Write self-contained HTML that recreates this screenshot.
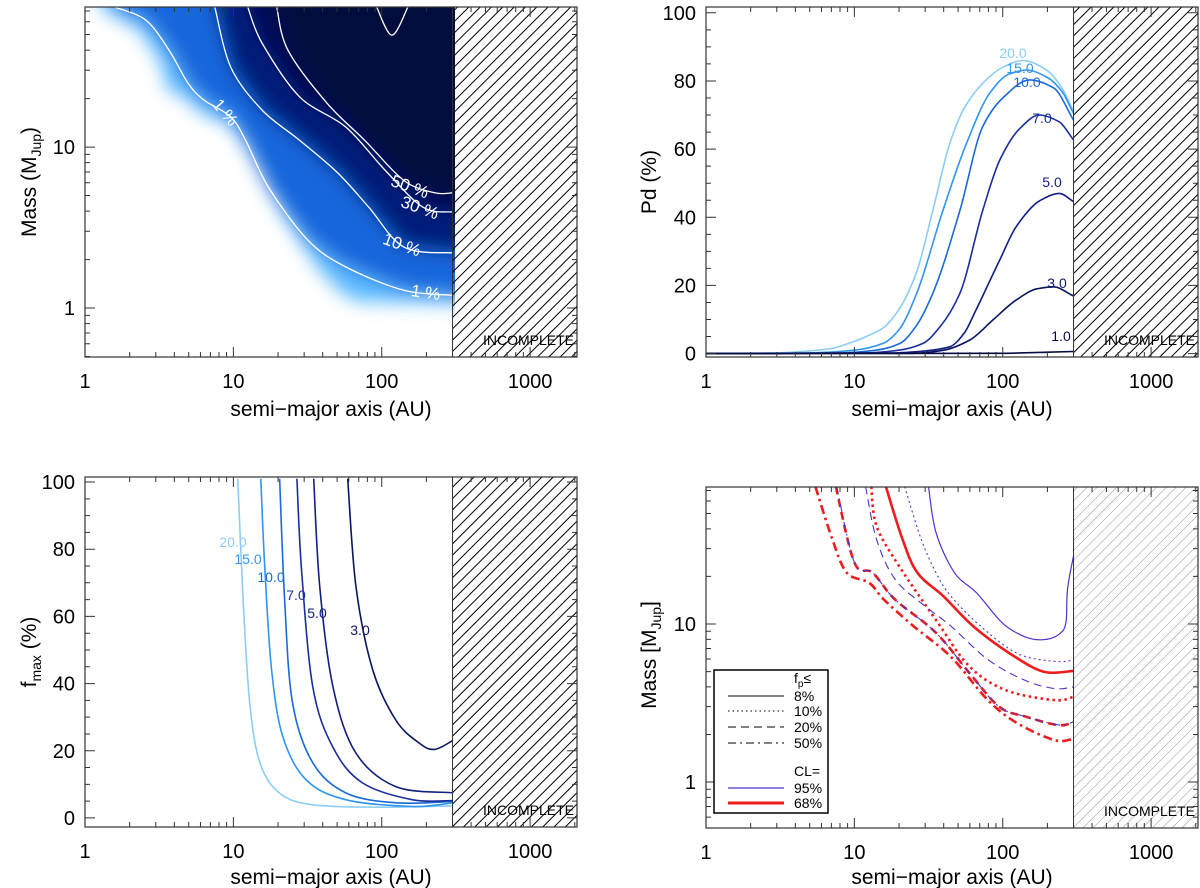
<!DOCTYPE html>
<html><head><meta charset="utf-8"><style>
html,body{margin:0;padding:0;background:#fff;}
svg{display:block;font-family:"Liberation Sans",Arial,sans-serif;}
</style></head><body>
<svg id="fig" width="1200" height="888" viewBox="0 0 1200 888" xmlns="http://www.w3.org/2000/svg">
<defs>
<pattern id="hatchDark" patternUnits="userSpaceOnUse" width="8" height="8" patternTransform="rotate(45)">
<line x1="0" y1="0" x2="0" y2="8" stroke="#000" stroke-width="2"/></pattern>
<pattern id="hatchLight" patternUnits="userSpaceOnUse" width="7" height="7" patternTransform="rotate(45)">
<line x1="0" y1="0" x2="0" y2="7" stroke="#777" stroke-width="0.8"/></pattern>
<filter id="blur" x="-10%" y="-10%" width="120%" height="120%"><feGaussianBlur stdDeviation="9"/></filter>
<clipPath id="clipHeat"><rect x="85" y="7" width="370" height="350"/></clipPath>
</defs>
</svg>
<script>
// ---------- DATA ----------
const heatEdge=[[1.26,74],[2.35,53],[3.2,34.7],[3.62,22.6],[4.7,20.5],[5.95,16.5],[9.47,13.7],[11.9,10.3],[15.1,7.2],[20.6,4.06],[28,2.64],[38.2,1.72],[56.3,1.2],[71,1.1],[300,1.07]];
const contour1=[[1.59,74],[2.57,61.5],[3.68,40],[4.94,25],[6.33,19.6],[9.6,15.4],[12.1,11],[17.3,5.6],[31.8,2.64],[57.3,1.8],[141,1.29],[300,1.2]];
const contour10=[[7.5,74],[9.6,31.4],[15.6,17],[28,11],[50.6,6.9],[81.7,4.24],[141,2.39],[300,2.2]];
const contour30=[[12.5,74],[15.6,44.3],[28,20.5],[57.3,13.3],[105,7.2],[189,4.24],[300,3.95]];
const contour50=[[19.6,74],[23.3,40],[42.6,18.8],[76.9,11],[141,6.2],[227,5.2],[300,5.2]];
const contourLoop=[[92.5,74],[117,49.6],[150,74]];
const pdLevels=["20.0","15.0","10.0","7.0","5.0","3.0","1.0"];
const pd20=[[1,0],[3,0.2],[5,0.8],[7,1.5],[9.3,3.1],[12,5],[15.6,7.5],[20,13],[26.3,24],[33.8,42],[44,61.7],[55,72],[73.3,79.3],[100,84],[137,86],[200,83],[250,78],[300,71]];
const pd15=[[1,0],[5,0.2],[10,1],[15.6,3],[20,7],[26.3,17.7],[39.5,42],[57,61.7],[81.7,76.4],[110,82],[144,83.2],[200,81],[250,77],[300,70.5]];
const pd10=[[1,0],[8,0.2],[14,1],[20.3,3],[26,8],[33.8,17.7],[51.4,42],[73.3,66.6],[100,75],[152,80.3],[220,78],[300,68.5]];
const pd7=[[1,0],[12,0.2],[20,1],[29,3],[38,8],[51.4,17.7],[73.3,42],[95.5,56.8],[130,66],[176,70],[240,68],[300,62.7]];
const pd5=[[1,0],[18,0.2],[30,0.8],[44,2],[55,6],[66,12.8],[95.5,27.5],[123,37.2],[180,45],[241,47],[300,44.6]];
const pd3=[[1,0],[25,0.1],[40,1],[60,4],[86,9.9],[123,15.7],[170,19],[219,19.6],[300,16.9]];
const pd1=[[1,0],[100,0.1],[200,0.4],[300,0.6]];
const fLevels=["20.0","15.0","10.0","7.0","5.0","3.0"];
const fm20=[[10.7,101],[11.66,63.9],[12.9,34],[15.1,16.4],[20.5,7.4],[34.3,3.9],[96,3.2],[300,3.6]];
const fm15=[[15.3,101],[16.3,74],[18.1,44],[21.6,24],[31,11.3],[57.6,5.4],[162,3.4],[300,4.5]];
const fm10=[[20.5,101],[22.2,64],[25.1,34],[34.3,16.4],[57.6,7.4],[125,4.5],[300,4.9]];
const fm7=[[26.8,101],[28.8,74],[34.3,39],[46.9,21],[74.4,10.4],[162,5.4],[300,5.2]];
const fm5=[[34.8,101],[38.2,69],[46.9,39],[67,19.3],[125,9.3],[300,7.5]];
const fm3=[[59,101],[67,69],[87,44],[125,29],[180,22.2],[227,20.4],[300,23]];
const blue8=[[31.6,74],[35.5,37.9],[47.3,21.1],[66.8,15.7],[100,10.1],[141,8.3],[188,7.95],[237,8.55],[266,10.1],[273,16.5],[300,27]];
const blue10=[[21.8,74],[28.2,34.4],[35.5,21.1],[44.7,15],[70.8,9.7],[126,6.5],[224,5.8],[300,5.9]];
const blue20=[[11.9,74],[14.1,34.4],[18.8,19.2],[29.9,13],[44.7,9.7],[79.4,5.95],[141,4.4],[224,3.9],[300,4.0]];
const blue50=[[7.6,74],[10,24.5],[13.3,21.1],[18.8,14.3],[35.5,8.8],[59.6,4.9],[94.4,3.0],[141,2.6],[237,2.3],[300,2.4]];
const red8=[[16.3,74],[21.1,34.4],[26.6,21.1],[39.8,15],[63.1,9.7],[112,6.5],[188,5.0],[300,5.05]];
const red10=[[13,74],[14.1,41.8],[20,23.3],[35.5,10.6],[59.6,5.4],[106,3.8],[224,3.3],[300,3.46]];
const red20=[[7.5,74],[10,24.5],[13.3,21.1],[18.8,14.3],[35.5,8.8],[59.6,4.9],[94.4,3.0],[141,2.6],[237,2.29],[300,2.4]];
const red50=[[5.46,74],[7.1,34.4],[8.9,21.1],[12.6,18.2],[15.8,14.3],[25,9.7],[44.7,6.2],[79.4,3.3],[126,2.35],[224,1.84],[300,1.88]];
const xTicks=["1","10","100","1000"];
const logYTicks=["1","10"];
const linYTicks=["0","20","40","60","80","100"];

// ---------- HELPERS ----------
const NS="http://www.w3.org/2000/svg";
const svg=document.getElementById('fig');
function el(tag,attrs,parent){const e=document.createElementNS(NS,tag);for(const k in attrs)e.setAttribute(k,attrs[k]);(parent||svg).appendChild(e);return e;}
function catmull(p){let d=`M${p[0][0].toFixed(1)},${p[0][1].toFixed(1)}`;for(let i=0;i<p.length-1;i++){const p0=p[i-1]||p[i],p1=p[i],p2=p[i+1],p3=p[i+2]||p2;const c1=[p1[0]+(p2[0]-p0[0])/6,p1[1]+(p2[1]-p0[1])/6],c2=[p2[0]-(p3[0]-p1[0])/6,p2[1]-(p3[1]-p1[1])/6];d+=`C${c1[0].toFixed(1)},${c1[1].toFixed(1)} ${c2[0].toFixed(1)},${c2[1].toFixed(1)} ${p2[0].toFixed(1)},${p2[1].toFixed(1)}`;}return d;}
function monotone(p){
  const n=p.length;if(n<2)return '';
  const dx=[],m=[],t=new Array(n);
  for(let i=0;i<n-1;i++){dx[i]=p[i+1][0]-p[i][0];m[i]=dx[i]===0?0:(p[i+1][1]-p[i][1])/dx[i];}
  t[0]=m[0];t[n-1]=m[n-2];
  for(let i=1;i<n-1;i++){t[i]=(m[i-1]*m[i]<=0)?0:(3*(dx[i-1]+dx[i]))/((2*dx[i]+dx[i-1])/m[i-1]+(dx[i]+2*dx[i-1])/m[i]);}
  let d=`M${p[0][0].toFixed(1)},${p[0][1].toFixed(1)}`;
  for(let i=0;i<n-1;i++){const h=dx[i]/3;
    d+=`C${(p[i][0]+h).toFixed(1)},${(p[i][1]+t[i]*h).toFixed(1)} ${(p[i+1][0]-h).toFixed(1)},${(p[i+1][1]-t[i+1]*h).toFixed(1)} ${p[i+1][0].toFixed(1)},${p[i+1][1].toFixed(1)}`;}
  return d;
}
function makePanel(x0,y0,w,h,ylog,ymin,ymax){
  const lx0=0,lx1=3.316;
  const sx=a=>x0+(Math.log10(a)-lx0)/(lx1-lx0)*w;
  const sy=ylog?(v=>y0+h-(Math.log10(v)-ymin)/(ymax-ymin)*h):(v=>y0+h-(v-ymin)/(ymax-ymin)*h);
  return {x0,y0,w,h,sx,sy,ylog,ymin,ymax};
}
function drawAxes(P,name,xTitleY){
  const g=el('g',{});
  
  
  const {x0,y0,w,h,sx,sy}=P;
  const fr=el('rect',{x:x0,y:y0,width:w,height:h,fill:'none',stroke:'#333','stroke-width':1.2},g);
  
  
  let d='';
  for(let dec=1;dec<=1000;dec*=10){for(let m=1;m<=9;m++){const a=dec*m;if(a>2070)break;const x=sx(a);const L=m===1?10:5;d+=`M${x},${y0+h}v${-L}M${x},${y0}v${L}`;}}
  if(P.ylog){const vals=[];for(let m=5;m<=9;m++)vals.push(m/10);for(let m=1;m<=9;m++)vals.push(m);for(let m=1;m<=7;m++)vals.push(m*10);
    vals.forEach(v=>{const y=sy(v);if(y<y0-0.5||y>y0+h+0.5)return;const L=(v===1||v===10)?10:5;d+=`M${x0},${y}h${L}M${x0+w},${y}h${-L}`;});}
  else{for(let v=0;v<=100;v+=5){const y=sy(v);const L=v%20===0?10:5;d+=`M${x0},${y}h${L}M${x0+w},${y}h${-L}`;}}
  el('path',{d,stroke:'#333','stroke-width':1,fill:'none'},g);
  xTicks.forEach(t=>{const tx=el('text',{x:sx(+t),y:y0+h+31,'text-anchor':'middle','font-size':20,fill:'#000'},g);tx.textContent=t;
    
    });
  (P.ylog?logYTicks:linYTicks).forEach(t=>{const ty=el('text',{x:x0-10,y:sy(+t)+7,'text-anchor':'end','font-size':20,fill:'#000'},g);ty.textContent=t;
    
    });
  const xt=el('text',{x:x0+w/2,y:xTitleY,'text-anchor':'middle','font-size':21,fill:'#000'},g);
  xt.textContent='semi\u2212major axis (AU)';
  
  
}
function yTitle(x,y,parts){
  const t=el('text',{x:0,y:0,transform:`translate(${x},${y}) rotate(-90)`,'text-anchor':'middle','font-size':21,fill:'#000'});
  
  
  parts.forEach(p=>{const s=el('tspan',p.sub?{'font-size':14,dy:5}:(p.after?{dy:-5}:{}),t);s.textContent=p.t;});
}
function hatch(P,pat,name){
  const x=P.sx(300);
  const r=el('rect',{x,y:P.y0,width:P.x0+P.w-x,height:P.h,fill:`url(#${pat})`,stroke:'#333','stroke-width':1});
  
  
  const t=el('text',{x:P.x0+P.w-3,y:P.y0+P.h-12,'text-anchor':'end','font-size':14,fill:'#000'});
  t.textContent='INCOMPLETE';
  
  
}
function curve(P,data,attrs,name,mono){
  const pts=data.map(d=>[P.sx(d[0]),P.sy(d[1])]);
  const p=el('path',Object.assign({d:mono?monotone(pts):catmull(pts),fill:'none'},attrs));
  
  
  return p;
}
function label(x,y,txt,color,size,rot,name){
  const t=el('text',{x,y,'text-anchor':'middle','font-size':size,fill:color,transform:rot?`rotate(${rot} ${x} ${y})`:''});
  t.textContent=txt;
  
  
}

// ---------- PANEL 1 ----------
const P1=makePanel(85,7,492,350,true,-0.304,1.87);
const heat=el('g',{'clip-path':'url(#clipHeat)'});


const heatInner=el('g',{filter:'url(#blur)'},heat);
[[heatEdge,'#5ab9ff'],[contour1,'#1466dc'],[contour10,'#051f7a'],[contour30,'#021058'],[contour50,'#000a3e']].forEach(([c,col])=>{
  const pts=c.map(d=>[P1.sx(d[0]),P1.sy(d[1])]);
  const first=pts[0],last=pts[pts.length-1];
  const poly=[[first[0],P1.y0-40],...pts,[last[0]+40,last[1]],[last[0]+40,P1.y0-40]];
  const pg=el('polygon',{points:poly.map(p=>p.join(',')).join(' '),fill:col},heatInner);
  
  
});
[[contour1,'contour-1pct'],[contour10,'contour-10pct'],[contour30,'contour-30pct'],[contour50,'contour-50pct'],[contourLoop,'contour-loop']].forEach(([c,n])=>curve(P1,c,{stroke:'#fff','stroke-width':1.3},n,false));
label(221,116,'1 %','#fff',17,50,'contour-label-1pct-upper');
label(408,192,'50 %','#fff',17,20,'contour-label-50pct');
label(418,213,'30 %','#fff',17,20,'contour-label-30pct');
label(400,250,'10 %','#fff',17,20,'contour-label-10pct');
label(425,298,'1 %','#fff',17,8,'contour-label-1pct-lower');
hatch(P1,'hatchDark','panel1');
drawAxes(P1,'panel1',416);
yTitle(36,182,[{t:'Mass (M'},{t:'Jup',sub:true},{t:')',after:true}]);

// ---------- PANEL 2 ----------
const P2=makePanel(706,7,492,350,false,-1,101.7);
const pdColors=['#8ccdf5','#2f95ee','#1a6ad6','#1a2e9c','#101f80','#0a1560','#050a40'];
[pd20,pd15,pd10,pd7,pd5,pd3,pd1].forEach((c,i)=>curve(P2,c,{stroke:pdColors[i],'stroke-width':1.6},'pd-curve-'+pdLevels[i],true));
[[1013,58],[1020,73],[1027,87],[1042,123],[1052,187],[1057,288],[1061,341]].forEach((p,i)=>label(p[0],p[1],pdLevels[i],pdColors[i],14,0,'pd-label-'+pdLevels[i]));
hatch(P2,'hatchDark','panel2');
drawAxes(P2,'panel2',416);
yTitle(656,182,[{t:'Pd (%)'}]);

// ---------- PANEL 3 ----------
const P3=makePanel(85,477,492,350,false,-2.7,101.5);
const fColors=pdColors.slice(0,6);
const fClip=el('clipPath',{id:'clipF'});el('rect',{x:85,y:477,width:492,height:350},fClip);
const g3=el('g',{'clip-path':'url(#clipF)'});
[fm20,fm15,fm10,fm7,fm5,fm3].forEach((c,i)=>{const p=curve(P3,c,{stroke:fColors[i],'stroke-width':1.6},'fmax-curve-'+fLevels[i],false);g3.appendChild(p);});
[[233,547],[248,564],[271,582],[296,600],[317,618],[360,635]].forEach((p,i)=>label(p[0],p[1],fLevels[i],fColors[i],14,0,'fmax-label-'+fLevels[i]));
hatch(P3,'hatchDark','panel3');
drawAxes(P3,'panel3',884);
yTitle(36,652,[{t:'f'},{t:'max',sub:true},{t:' (%)',after:true}]);

// ---------- PANEL 4 ----------
const P4=makePanel(706,487,492,341,true,-0.291,1.867);
const fClip4=el('clipPath',{id:'clipM'});el('rect',{x:706,y:487,width:492,height:341},fClip4);
const g4=el('g',{'clip-path':'url(#clipM)'});
const BL='#4a35c8',RD='#ee1c1c';
[[red50,RD,2.6,'9 4 2.5 4','red-50pct'],[red20,RD,2.6,'8 5','red-20pct'],[blue50,BL,1.1,'8 4 2 4','blue-50pct'],[red10,RD,2.6,'2.5 3.5','red-10pct'],[blue20,BL,1.1,'8 5','blue-20pct'],[red8,RD,2.6,'','red-8pct'],[blue10,BL,1.1,'2 3','blue-10pct'],[blue8,BL,1.2,'','blue-8pct']].forEach(([c,col,sw,da,n])=>{
  const a={stroke:col,'stroke-width':sw};if(da)a['stroke-dasharray']=da;g4.appendChild(curve(P4,c,a,'limit-curve-'+n,false));});
hatch(P4,'hatchLight','panel4');
drawAxes(P4,'panel4',884);
yTitle(656,655,[{t:'Mass [M'},{t:'Jup',sub:true},{t:']',after:true}]);
const lg=el('g',{});


el('rect',{x:714,y:670,width:114,height:143,fill:'#fff',stroke:'#000','stroke-width':1.5},lg);
const lt=el('text',{x:794,y:683,'font-size':14},lg);lt.textContent='f';const ls=el('tspan',{'font-size':10,dy:4},lt);ls.textContent='p';const ls2=el('tspan',{dy:-4},lt);ls2.textContent='\u2264';
[['8%',696,'',1,'#000'],['10%',711,'1.5 3',1,'#000'],['20%',727,'8 5',1,'#000'],['50%',743,'8 4 2 4',1,'#000'],['95%',788,'',1.2,BL],['68%',803,'',3,RD]].forEach(([t,y,da,sw,col])=>{
  const a={x1:728,x2:784,y1:y,y2:y,stroke:col,'stroke-width':sw};if(da)a['stroke-dasharray']=da;
  const ln=el('line',a,lg);
  
  
  const tx=el('text',{x:794,y:y+5,'font-size':14},lg);tx.textContent=t;
  
  
});
const cl=el('text',{x:794,y:776,'font-size':14},lg);cl.textContent='CL=';
</script>
</body></html>
